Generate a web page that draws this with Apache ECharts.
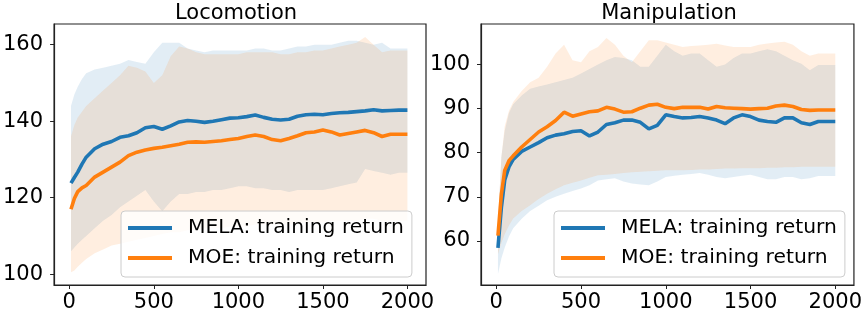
<!DOCTYPE html>
<html>
<head>
<meta charset="utf-8">
<script src="https://cdn.jsdelivr.net/npm/echarts@6/dist/echarts.min.js"></script>
<style>
  html, body { margin: 0; padding: 0; background: #fff; }
  #chart { width: 865px; height: 313px; }
</style>
</head>
<body>
<div id="chart"></div>
<script>
const FONT_FAMILY = "'DejaVu Sans', sans-serif"
const COLORS = {
  mela: '#1f77b4',
  moe: '#ff7f0e',
  frame: '#222',
  text: '#000',
}

const STEPS = [10, 30, 50, 75, 100, 150, 200, 250, 300, 350, 400, 450, 500, 550, 600,
  650, 700, 750, 800, 850, 900, 950, 1000, 1050, 1100, 1150, 1200, 1250, 1300, 1350,
  1400, 1450, 1500, 1550, 1600, 1650, 1700, 1750, 1800, 1850, 1900, 1950, 2000]

const X_TICKS = [0, 500, 1000, 1500, 2000]
const LOCO_Y_TICKS = [100, 120, 140, 160]
const MANIP_Y_TICKS = [60, 70, 80, 90, 100]

// Locomotion
const LOCO_MELA = [123.8, 125.3, 126.7, 128.8, 130.6, 132.8, 134.0, 134.7, 135.8, 136.2, 137.0, 138.3, 138.6, 137.9, 138.8,
  139.8, 140.2, 140.0, 139.7, 140.0, 140.4, 140.8, 140.9, 141.2, 141.6, 141.0, 140.5, 140.3, 140.5, 141.3,
  141.7, 141.8, 141.7, 142.0, 142.2, 142.3, 142.5, 142.7, 143.0, 142.7, 142.8, 142.9, 142.9]
const LOCO_MOE = [117.0, 119.8, 121.6, 122.6, 123.2, 125.4, 126.7, 128.0, 129.3, 131.0, 131.9, 132.5, 132.9, 133.2, 133.6,
  134.0, 134.5, 134.6, 134.5, 134.7, 134.9, 135.2, 135.5, 136.0, 136.4, 136.0, 135.2, 134.9, 135.5, 136.2,
  137.0, 137.2, 137.7, 137.2, 136.4, 136.8, 137.2, 137.6, 137.0, 136.0, 136.6, 136.6, 136.6]
const LOCO_MELA_HI = [144, 147, 149, 151, 152.5, 153.5, 154, 154.5, 155, 156, 155.5, 155, 158, 160.5, 160.5,
  160.5, 159, 158.5, 158, 158.5, 158.5, 158.5, 158.5, 158.5, 159, 159, 158.5, 158.5, 159, 159.5,
  159.5, 160, 160, 160, 160.5, 161, 161, 160.5, 160, 160.5, 159, 159, 159]
const LOCO_MELA_LO = [106, 107, 108, 109, 110, 112, 114, 115.5, 117.5, 119, 120.5, 122, 119, 116.5, 119,
  121, 121, 121.5, 121.5, 122, 122, 122.5, 123, 123, 122.5, 122.5, 122, 122, 121.5, 122,
  122, 122, 122, 122.5, 123, 123.5, 124, 127.5, 127, 126.5, 126, 126.5, 126.5]
const LOCO_MOE_HI = [136, 139, 141, 142.5, 144, 146, 148, 150, 152, 154.5, 154, 153, 150, 152, 157,
  159.5, 159, 158, 157.5, 157.5, 157.5, 157.5, 157.5, 158, 158, 158, 158, 157.5, 157.5, 158,
  158, 158.5, 158.5, 159, 159.5, 160, 160.5, 162, 160, 158, 158.5, 158.5, 158.5]
const LOCO_MOE_LO = [100.5, 101, 102, 103, 104, 105.5, 106.5, 107.5, 108, 108.5, 109, 109.5, 110, 110.5, 111,
  111, 111.5, 111.5, 112, 112, 112, 112.5, 112.5, 112.5, 113, 113, 113, 113, 113, 113.5,
  113.5, 113.5, 113.5, 114, 114, 114, 114, 114.5, 114.5, 114, 114, 114, 114]

// Manipulation
const MANIP_MELA = [58.4, 67.5, 73.8, 76.8, 78.5, 80.3, 81.3, 82.3, 83.4, 84.0, 84.3, 84.8, 85.0, 83.8, 84.7,
  86.4, 86.8, 87.4, 87.4, 86.9, 85.4, 86.2, 88.6, 88.2, 87.9, 88.0, 88.2, 87.9, 87.4, 86.6,
  87.9, 88.6, 88.2, 87.4, 87.1, 86.9, 87.9, 87.9, 86.8, 86.4, 87.1, 87.1, 87.1]
const MANIP_MOE = [61.2, 70.5, 76.0, 78.2, 79.3, 81.3, 83.0, 84.7, 85.9, 87.3, 89.2, 88.3, 88.8, 89.3, 89.5,
  90.3, 89.9, 89.2, 89.3, 90.1, 90.8, 91.0, 90.3, 90.0, 90.3, 90.3, 90.3, 89.9, 90.5, 90.2,
  90.1, 90.0, 89.9, 90.0, 90.1, 90.6, 90.8, 90.5, 89.8, 89.6, 89.7, 89.7, 89.7]
const MANIP_MELA_HI = [64, 79, 85, 89, 91, 93, 94.5, 95, 95.5, 96, 96.5, 97, 98, 99, 100,
  101, 101.7, 101.5, 101, 99.5, 99.5, 102, 104.5, 103, 102, 102.5, 102.5, 101, 99.5, 100,
  101.5, 102.5, 102.5, 103, 103.5, 103, 102, 101, 100.2, 98.7, 99.9, 99.9, 99.9]
const MANIP_MELA_LO = [52.5, 56, 58.5, 61, 62.9, 65, 66.8, 68, 69.2, 70, 70.7, 71.3, 71.9, 72.6, 73.7,
  74, 74.2, 73.5, 73, 72.8, 72.6, 73.5, 74.5, 74.8, 75, 75.2, 75.4, 75, 74.5, 74.2,
  74.5, 74.8, 75, 74.5, 74, 74, 74.5, 74.5, 74, 74.2, 74.7, 74.7, 74.7]
const MANIP_MOE_HI = [64, 79, 86, 89.5, 91.5, 94, 96, 97, 99.5, 102.5, 104.5, 101, 100.5, 103, 104,
  106, 104.5, 102, 100.5, 103, 105.5, 105.5, 105, 104.5, 104, 104.2, 104.3, 104.5, 104.7, 104.3,
  104, 104, 104, 104.5, 104.8, 105, 105.2, 104.5, 103, 102, 102.5, 102.5, 102.5]
const MANIP_MOE_LO = [57, 59.5, 61.5, 63.5, 65.1, 66.8, 68.1, 69.5, 70.7, 71.7, 72.6, 73.2, 73.7, 74.3, 74.9,
  75, 75.2, 75.4, 75.6, 75.7, 75.8, 75.9, 76, 76, 76, 76.1, 76.2, 76.2, 76.3, 76.4,
  76.4, 76.5, 76.5, 76.5, 76.6, 76.6, 76.7, 76.7, 76.8, 76.8, 76.8, 76.8, 76.8]

const MELA_NAME = 'MELA: training return'
const MOE_NAME = 'MOE: training return'

const pairs = ys => STEPS.map((s, i) => [s, ys[i]])

// shaded band between lo and hi, drawn as one polygon through the axes
function band(idx, lo, hi, color) {
  return {
    type: 'custom', xAxisIndex: idx, yAxisIndex: idx, silent: true, clip: true,
    data: STEPS.map((s, i) => [s, lo[i], hi[i]]),
    encode: { x: 0, y: [1, 2] },
    renderItem(params, api) {
      if (params.dataIndex !== 0) return null
      const top = STEPS.map((s, i) => api.coord([s, hi[i]]))
      const bottom = STEPS.map((s, i) => api.coord([s, lo[i]])).reverse()
      return {
        type: 'polygon',
        shape: { points: top.concat(bottom) },
        style: { fill: color, opacity: 0.13 },
      }
    },
  }
}

function line(idx, name, ys, color) {
  return {
    type: 'line', name, xAxisIndex: idx, yAxisIndex: idx,
    data: pairs(ys), symbol: 'none', color,
    lineStyle: { color, width: 3.6 },
  }
}

const axisCommon = {
  axisLine: { show: true, onZero: false, lineStyle: { color: COLORS.frame, width: 1.2 } },
  splitLine: { show: false },
}

function xAxis(idx) {
  return {
    ...axisCommon, type: 'value', gridIndex: idx, min: -90, max: 2110,
    axisTick: { show: true, length: 4, customValues: X_TICKS, lineStyle: { color: COLORS.frame } },
    axisLabel: { customValues: X_TICKS, formatter: v => String(v), margin: 7,
      fontSize: 21, fontFamily: FONT_FAMILY, color: COLORS.text },
  }
}

function yAxis(idx, min, max, ticks) {
  return {
    ...axisCommon, type: 'value', gridIndex: idx, min, max,
    axisTick: { show: true, length: 4, customValues: ticks, lineStyle: { color: COLORS.frame } },
    axisLabel: { customValues: ticks, formatter: v => String(v), margin: 11,
      fontSize: 21, fontFamily: FONT_FAMILY, color: COLORS.text },
  }
}

function legend(left) {
  return {
    left, top: 211, orient: 'vertical',
    data: [
      { name: MELA_NAME, itemStyle: { color: COLORS.mela } },
      { name: MOE_NAME, itemStyle: { color: COLORS.moe } },
    ],
    icon: 'rect', itemWidth: 44, itemHeight: 4, itemGap: 8,
    padding: [6, 8, 8, 7],
    backgroundColor: 'rgba(255,255,255,0.8)',
    borderColor: '#cccccc', borderWidth: 1, borderRadius: 4,
    textStyle: { fontSize: 20.3, lineHeight: 22, fontFamily: FONT_FAMILY, color: COLORS.text, padding: [0, 0, 0, 11] },
  }
}

const chart = echarts.init(document.getElementById('chart'), null, { renderer: 'canvas' })

chart.setOption({
  animation: false,
  title: [
    { text: 'Locomotion', left: 236, top: 3, textAlign: 'center', padding: 0,
      textStyle: { fontSize: 21, fontWeight: 'normal', fontFamily: FONT_FAMILY, color: COLORS.text } },
    { text: 'Manipulation', left: 669, top: 3, textAlign: 'center', padding: 0,
      textStyle: { fontSize: 21, fontWeight: 'normal', fontFamily: FONT_FAMILY, color: COLORS.text } },
  ],
  grid: [
    { left: 47, top: 24, width: 379, height: 263, show: true, borderColor: COLORS.frame, borderWidth: 1.2 },
    { left: 481, top: 24, width: 376, height: 263, show: true, borderColor: COLORS.frame, borderWidth: 1.2 },
  ],
  xAxis: [xAxis(0), xAxis(1)],
  yAxis: [yAxis(0, 97.2, 165.4, LOCO_Y_TICKS), yAxis(1, 50.0, 109.2, MANIP_Y_TICKS)],
  legend: [legend(121), legend(554)],
  series: [
    band(0, LOCO_MELA_LO, LOCO_MELA_HI, COLORS.mela),
    band(0, LOCO_MOE_LO, LOCO_MOE_HI, COLORS.moe),
    line(0, MELA_NAME, LOCO_MELA, COLORS.mela),
    line(0, MOE_NAME, LOCO_MOE, COLORS.moe),
    band(1, MANIP_MELA_LO, MANIP_MELA_HI, COLORS.mela),
    band(1, MANIP_MOE_LO, MANIP_MOE_HI, COLORS.moe),
    line(1, MELA_NAME, MANIP_MELA, COLORS.mela),
    line(1, MOE_NAME, MANIP_MOE, COLORS.moe),
  ],
})
</script>
</body>
</html>
